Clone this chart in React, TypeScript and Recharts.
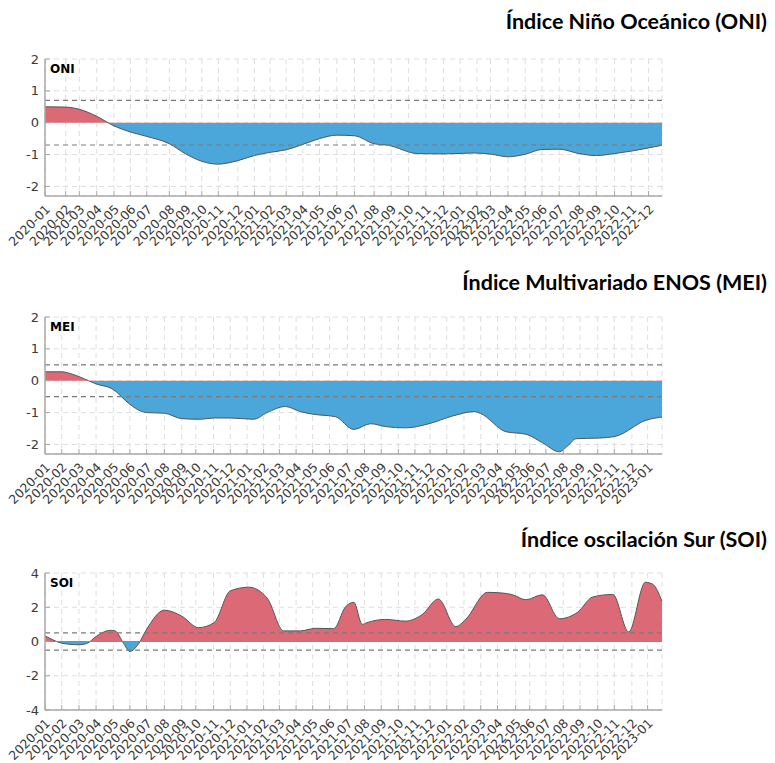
import { AreaChart, Area, XAxis, YAxis, CartesianGrid, ReferenceLine } from "recharts";

const RED = "#DC6A76";
const BLUE = "#4BA6DA";
const AXIS = "#A8A8A8";
const TICKFONT = "DejaVu Sans";

// ONI: 2020-01 .. 2022-12 (posiciones de las etiquetas, en meses)
const oniLabels = [
  "2020-01", "2020-02", "2020-03", "2020-04", "2020-05", "2020-06", "2020-07", "2020-08", "2020-09",
  "2020-10", "2020-11", "2020-12", "2021-01", "2021-02", "2021-03", "2021-04", "2021-05", "2021-06",
  "2021-07", "2021-08", "2021-09", "2021-10", "2021-11", "2021-12", "2022-01", "2022-02", "2022-03",
  "2022-04", "2022-05", "2022-06", "2022-07", "2022-08", "2022-09", "2022-10", "2022-11", "2022-12",
];
const oniTicks = [
  0, 1.2, 1.99, 3.0, 4.0, 4.95, 5.9, 7.21, 8.16, 9.09, 10.05, 11.18, 12.14, 13.05, 13.98, 14.95, 15.91,
  16.92, 17.94, 19.08, 20.07, 21.07, 22.08, 23.1, 24.07, 25.04, 25.83, 26.84, 27.84, 28.81, 29.81,
  30.97, 31.96, 33.02, 33.99, 34.99,
];
const oniEnd = 35.77;
const oniX = [
  0, 1.2, 2.0, 3.0, 4.0, 4.95, 5.9, 7.21, 8.16, 9.09, 10.0, 11.18, 12.14, 13.05, 13.98, 14.95, 15.91,
  16.92, 17.94, 19.08, 19.9, 21.6, 23.1, 24.9, 25.9, 26.84, 27.84, 28.8, 29.8, 30.97, 31.96, 33.0, 34.0,
  35.0, 35.77,
];
const oniV = [
  0.5, 0.49, 0.42, 0.2, -0.1, -0.29, -0.43, -0.66, -0.98, -1.21, -1.3, -1.19, -1.03, -0.93, -0.85, -0.68,
  -0.5, -0.39, -0.41, -0.66, -0.71, -0.97, -0.98, -0.95, -0.99, -1.07, -0.99, -0.84, -0.83, -0.97, -1.03,
  -0.97, -0.89, -0.79, -0.71,
];

// MEI y SOI: 2020-01 .. 2023-01
const monthLabels = [
  "2020-01", "2020-02", "2020-03", "2020-04", "2020-05", "2020-06", "2020-07", "2020-08", "2020-09",
  "2020-10", "2020-11", "2020-12", "2021-01", "2021-02", "2021-03", "2021-04", "2021-05", "2021-06",
  "2021-07", "2021-08", "2021-09", "2021-10", "2021-11", "2021-12", "2022-01", "2022-02", "2022-03",
  "2022-04", "2022-05", "2022-06", "2022-07", "2022-08", "2022-09", "2022-10", "2022-11", "2022-12",
  "2023-01",
];
const monthTicks = [
  0, 1.0, 2.03, 3.05, 4.08, 5.07, 6.07, 7.13, 8.17, 9.01, 10.07, 11.07, 12.07, 13.06, 14.0, 15.0, 15.99,
  17.0, 18.06, 19.09, 20.09, 21.11, 22.1, 23.0, 24.0, 25.03, 26.03, 27.03, 28.12, 28.96, 29.92, 30.96,
  31.96, 33.02, 34.01, 35.06, 36.0,
];
const monthEnd = 36.86;

const meiX = [
  0, 1.0, 1.6, 2.6, 3.05, 4.0, 5.07, 5.7, 6.07, 7.13, 8.17, 9.28, 10.1, 11.07, 12.46, 13.27, 14.36, 15.26,
  16.0, 17.35, 18.45, 19.45, 20.35, 21.54, 22.94, 24.34, 25.63, 26.03, 27.53, 28.73, 29.73, 30.72, 31.22,
  31.72, 33.11, 34.11, 35.91, 36.86,
];
const meiV = [
  0.28, 0.28, 0.21, 0, -0.1, -0.25, -0.74, -0.95, -1.0, -1.02, -1.19, -1.21, -1.17, -1.17, -1.21, -1.0,
  -0.81, -0.97, -1.05, -1.13, -1.53, -1.35, -1.44, -1.48, -1.35, -1.11, -0.97, -1.03, -1.6, -1.68, -1.95,
  -2.23, -2.05, -1.82, -1.8, -1.74, -1.24, -1.14,
];

const soiX = [
  0, 0.6, 1.0, 2.03, 2.49, 3.05, 3.89, 4.19, 4.69, 5.07, 5.58, 6.07, 7.13, 8.17, 9.17, 10.1, 11.07, 12.17,
  13.27, 14.26, 15.26, 16.16, 17.25, 17.95, 18.45, 18.95, 19.23, 20.35, 21.54, 22.54, 23.5, 24.54, 25.13,
  26.43, 27.33, 27.93, 28.73, 29.72, 30.72, 31.82, 32.72, 33.92, 34.87, 35.87, 36.3, 36.86,
];
const soiV = [
  0.33, 0.04, -0.1, -0.19, -0.12, 0.29, 0.65, 0.62, -0.1, -0.58, -0.15, 0.71, 1.83, 1.48, 0.81, 1.1, 2.96,
  3.17, 2.54, 0.62, 0.62, 0.77, 0.75, 2.02, 2.29, 1.0, 1.1, 1.29, 1.19, 1.58, 2.48, 0.87, 1.29, 2.87, 2.83,
  2.73, 2.44, 2.73, 1.33, 1.71, 2.6, 2.75, 0.56, 3.46, 3.35, 2.35,
];

function XTick({ x, y, payload, ticks, labels }: any) {
  const lbl = labels[ticks.indexOf(payload.value)];
  const ax = x + 6;
  const ay = y + 14;
  return (
    <g>
      <line x1={x} x2={x} y1={y} y2={y - 5} stroke={AXIS} strokeWidth={1} />
      <text
        x={ax}
        y={ay}
        transform={`rotate(-45 ${ax} ${ay})`}
        textAnchor="end"
        fontSize={12.5}
        fontFamily={TICKFONT}
        fill="#3A3A3A"
      >
        {lbl}
      </text>
    </g>
  );
}

function YTick({ x, y, payload }: any) {
  return (
    <g>
      <line x1={x + 6} x2={x + 11} y1={y} y2={y} stroke={AXIS} strokeWidth={1} />
      <text x={x} y={y} dy={4.5} textAnchor="end" fontSize={13} fontFamily={TICKFONT} fill="#3A3A3A">
        {payload.value}
      </text>
    </g>
  );
}

interface PanelProps {
  id: string;
  top: number;
  xs: number[];
  vs: number[];
  ticks: number[];
  labels: string[];
  xEnd: number;
  yDomain: [number, number];
  yTicks: number[];
  thr: number;
  zeroLine?: boolean;
}

function Panel({ id, top, xs, vs, ticks, labels, xEnd, yDomain, yTicks, thr, zeroLine }: PanelProps) {
  const data = xs.map((x, i) => ({ x, v: vs[i] }));
  const hi = Math.max(0, ...vs);
  const lo = Math.min(0, ...vs);
  const off = hi / (hi - lo);
  return (
    <div style={{ position: "absolute", left: 0, top: top - 10 }}>
      <AreaChart width={775} height={217} data={data} margin={{ top: 10, right: 113, bottom: 0, left: 0 }}>
        <defs>
          <linearGradient id={`split-${id}`} x1="0" y1="0" x2="0" y2="1">
            <stop offset={off} stopColor={RED} />
            <stop offset={off} stopColor={BLUE} />
          </linearGradient>
        </defs>
        <CartesianGrid strokeDasharray="5 4" stroke="#DEDEDE" />
        <XAxis
          dataKey="x"
          type="number"
          domain={[0, xEnd]}
          ticks={ticks}
          interval={0}
          height={70}
          tickSize={0}
          tickMargin={0}
          tickLine={false}
          axisLine={{ stroke: AXIS, strokeWidth: 1.5 }}
          tick={<XTick ticks={ticks} labels={labels} />}
          allowDataOverflow
        />
        <YAxis
          type="number"
          domain={yDomain}
          ticks={yTicks}
          width={45}
          tickSize={0}
          tickMargin={6}
          tickLine={false}
          axisLine={{ stroke: AXIS, strokeWidth: 1.5 }}
          tick={<YTick />}
          allowDataOverflow
        />
        <Area
          type="monotone"
          dataKey="v"
          baseValue={0}
          stroke="#555"
          strokeWidth={1}
          fill={`url(#split-${id})`}
          fillOpacity={1}
          dot={false}
          activeDot={false}
          isAnimationActive={false}
        />
        {zeroLine && <ReferenceLine y={0} stroke="#8A8A8A" strokeWidth={1.2} />}
        <ReferenceLine y={thr} stroke="#7A7A7A" strokeDasharray="5 4" strokeWidth={1.2} />
        <ReferenceLine y={-thr} stroke="#7A7A7A" strokeDasharray="5 4" strokeWidth={1.2} />
      </AreaChart>
    </div>
  );
}

const titleStyle = { fontFamily: "Lato", fontWeight: 700, fontSize: 21.5, fill: "#000" } as const;
const tagStyle = { fontFamily: TICKFONT, fontWeight: 700, fontSize: 12, fill: "#000" } as const;

export default function App() {
  return (
    <div style={{ position: "absolute", left: 0, top: 0, width: 775, height: 763, background: "#fff" }}>
      <Panel id="oni" top={59} xs={oniX} vs={oniV} ticks={oniTicks} labels={oniLabels} xEnd={oniEnd}
        yDomain={[-2.3, 2]} yTicks={[-2, -1, 0, 1, 2]} thr={0.7} />
      <Panel id="mei" top={317} xs={meiX} vs={meiV} ticks={monthTicks} labels={monthLabels} xEnd={monthEnd}
        yDomain={[-2.3, 2]} yTicks={[-2, -1, 0, 1, 2]} thr={0.5} />
      <Panel id="soi" top={573} xs={soiX} vs={soiV} ticks={monthTicks} labels={monthLabels} xEnd={monthEnd}
        yDomain={[-4, 4]} yTicks={[-4, -2, 0, 2, 4]} thr={0.5} zeroLine />
      <svg width={775} height={763} style={{ position: "absolute", left: 0, top: 0, pointerEvents: "none" }}>
        <text x={767} y={29} textAnchor="end" style={titleStyle}>Índice Niño Oceánico (ONI)</text>
        <text x={767} y={290} textAnchor="end" style={titleStyle}>Índice Multivariado ENOS (MEI)</text>
        <text x={767} y={547} textAnchor="end" style={titleStyle}>Índice oscilación Sur (SOI)</text>
        <text x={50} y={73} style={tagStyle}>ONI</text>
        <text x={50} y={331} style={tagStyle}>MEI</text>
        <text x={50} y={587} style={tagStyle}>SOI</text>
      </svg>
    </div>
  );
}
